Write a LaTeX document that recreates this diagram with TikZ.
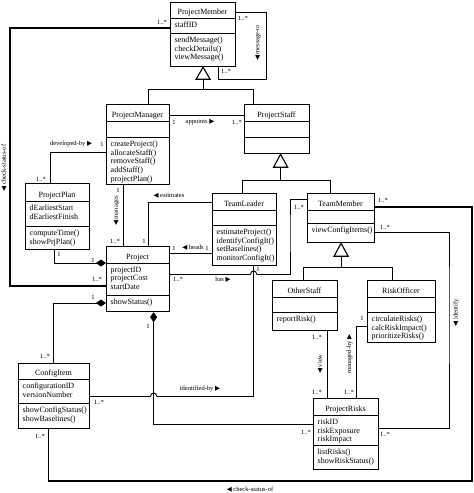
\documentclass[tikz,border=0pt]{standalone}
\usepackage{fontspec}
\setmainfont{Liberation Serif}
\newfontfamily\symfont{DejaVu Sans}
\usetikzlibrary{arrows.meta, calc}

\newcommand{\ra}{{\symfont\fontsize{6.5}{6.5}\selectfont\char"25B6}}
\newcommand{\la}{{\symfont\fontsize{6.5}{6.5}\selectfont\char"25C0}}

% class box: name, left, right, top, sep1, sep2, bottom, title, attributes
\newcommand{\umlclass}[9]{%
  \node[cls, minimum width={#3pt-#2pt}, minimum height={#7pt-#4pt}] (#1) at (#2,#4) {};
  \draw[cmpline] (#2,#5) -- (#3,#5) (#2,#6) -- (#3,#6);
  \coordinate (#1-a) at (#2,#5);
  \coordinate (#1-o) at (#2,#6);
  \node[ttl] at ({(#2+#3)/2},#5-4) {#8};
  \node[mbr] at ([shift={(4.5pt,-3.5pt)}]#1-a) {#9};
}
% line crossing
\newcommand{\hop}[1]{%
  \coordinate (hp) at (#1);
  \fill[white] (hp) circle (3pt);
  \draw[assoc] ([yshift=4pt]hp) -- ([yshift=-4pt]hp);
  \draw[assoc] ([xshift=-3pt]hp) arc[start angle=180, end angle=0, radius=3pt];
}

\begin{document}
\begin{tikzpicture}[x=1pt, y=-1pt]
    \tikzstyle{cls} = [draw, line width=1.2pt, inner sep=0pt, anchor=north west]
    \tikzstyle{cmpline} = [line width=0.8pt]
    \tikzstyle{ttl} = [font=\fontsize{8}{9}\selectfont, anchor=base, inner sep=0pt]
    \tikzstyle{mbr} = [font=\fontsize{8}{8.8}\selectfont, align=left, anchor=north west, inner sep=0pt]
    \tikzstyle{lbl} = [font=\fontsize{6.5}{7}\selectfont, inner sep=0.5pt]
    \tikzstyle{assoc} = [line width=0.9pt]
    \tikzstyle{heavy} = [line width=1.6pt]
    \tikzstyle{comp} = [assoc, {Diamond[length=10pt, width=7pt]}-]
    \tikzstyle{gen} = [line width=1.1pt, fill=white]

    \useasboundingbox (0,0) rectangle (474,493);

    % classes
    \umlclass{pm}{170}{235}{2}{18}{33}{66}{ProjectMember}{staffID}
    \node[mbr] at ([shift={(4.5pt,-3.5pt)}]pm-o) {sendMessage()\\checkDetails()\\viewMessage()};
    \umlclass{pmgr}{106}{169}{104}{121}{137}{184}{ProjectManager}{}
    \node[mbr] at ([shift={(4.5pt,-3.5pt)}]pmgr-o) {createProject()\\allocateStaff()\\removeStaff()\\addStaff()\\projectPlan()};
    \umlclass{pst}{244}{309}{104}{121}{137}{153}{ProjectStaff}{}
    \umlclass{tl}{212}{276}{193}{210}{225}{265}{TeamLeader}{}
    \node[mbr] at ([shift={(4.5pt,-3.5pt)}]tl-o) {estimateProject()\\identifyConfigIt()\\setBaselines()\\monitorConfigIt()};
    \umlclass{tm}{307}{374}{193}{210}{223}{242}{TeamMember}{}
    \node[mbr] at ([shift={(4.5pt,-3.5pt)}]tm-o) {viewConfigItems()};
    \umlclass{os}{272}{337}{280}{297}{312}{330}{OtherStaff}{}
    \node[mbr] at ([shift={(4.5pt,-3.5pt)}]os-o) {reportRisk()};
    \umlclass{ro}{367}{435}{280}{297}{312}{342}{RiskOfficer}{}
    \node[mbr] at ([shift={(4.5pt,-3.5pt)}]ro-o) {circulateRisks()\\calcRiskImpact()\\prioritizeRisks()};
    \umlclass{pp}{25}{89}{183}{201}{226}{249}{ProjectPlan}{dEarliestStart\\dEarliestFinish}
    \node[mbr] at ([shift={(4.5pt,-3.5pt)}]pp-o) {computeTime()\\showPrjPlan()};
    \umlclass{prj}{106}{169}{246}{263}{295}{311}{Project}{projectID\\projectCost\\startDate}
    \node[mbr] at ([shift={(4.5pt,-3.5pt)}]prj-o) {showStatus()};
    \umlclass{ci}{18}{89}{363}{379}{403}{428}{ConfigItem}{configurationID\\versionNumber}
    \node[mbr] at ([shift={(4.5pt,-3.5pt)}]ci-o) {showConfigStatus()\\showBaselines()};
    \umlclass{pr}{313}{378}{398}{415}{445}{469}{ProjectRisks}{riskID\\riskExposure\\riskImpact}
    \node[mbr] at ([shift={(4.5pt,-3.5pt)}]pr-o) {listRisks()\\showRiskStatus()};

    % generalisations
    \coordinate (g1) at (0,89);
    \coordinate (g2) at (0,180);
    \coordinate (g3) at (0,267);
    \draw[gen] (pm.south) -- ++(-7pt,-12pt) -- ++(14pt,0pt) -- cycle;
    \draw[assoc] ([yshift=-12pt]pm.south) -- (pm.south |- g1);
    \coordinate (pmgr-g) at ([xshift=10.5pt]pmgr.north);
    \coordinate (pst-g) at ([xshift=-23.5pt]pst.north);
    \draw[assoc] (pmgr-g) -- (pmgr-g |- g1) -- (pst-g |- g1) -- (pst-g);

    \coordinate (pst-t) at ([xshift=3.5pt]pst.south);
    \draw[gen] (pst-t) -- ++(-7pt,-13pt) -- ++(14pt,0pt) -- cycle;
    \draw[assoc] ([yshift=-13pt]pst-t) -- (pst-t |- g2);
    \coordinate (tl-g) at ([xshift=-2pt]tl.north);
    \coordinate (tm-g) at ([xshift=-10.5pt]tm.north);
    \draw[assoc] (tl-g) -- (tl-g |- g2) -- (tm-g |- g2) -- (tm-g);

    \draw[gen] (tm.south) -- ++(-7pt,-13pt) -- ++(14pt,0pt) -- cycle;
    \draw[assoc] ([yshift=-13pt]tm.south) -- (tm.south |- g3);
    \coordinate (os-g) at ([xshift=-1.5pt]os.north);
    \coordinate (ro-g) at ([xshift=-9pt]ro.north);
    \draw[assoc] (os-g) -- (os-g |- g3) -- (ro-g |- g3) -- (ro-g);

    % associations
    \coordinate (k1) at (10,150);
    \draw[heavy] ([yshift=-26pt]pm.north west) -| (k1) |- ([yshift=-40pt]prj.north west);
    \coordinate (sa) at (266,79);
    \draw[assoc] ([yshift=-10pt]pm.north east) -| (sa) -| ([xshift=15.5pt]pm.south);
    \draw[assoc] ([yshift=-11pt]pmgr.north east) -- ([yshift=-11pt]pst.north west);
    \draw[assoc] ([xshift=-7pt]pp.north) |- ([yshift=-48pt]pmgr.north west);
    \draw[assoc] ([xshift=-14.5pt]pmgr.south) -- ([xshift=-14.5pt]prj.north);
    \draw[assoc] ([xshift=10.5pt]prj.north) |- ([yshift=-9pt]tl.north west);
    \draw[assoc] ([yshift=-7pt]prj.north east) -- ([yshift=-60pt]tl.north west);
    \coordinate (h1) at (290,230);
    \coordinate (has-s) at ([yshift=-28pt]prj.north east);
    \draw[assoc] (has-s) -| (h1) |- ([yshift=-6pt]tm.north west);
    \coordinate (id-s) at ([xshift=9pt]tl.south);
    \coordinate (ci-r) at ([yshift=-33pt]ci.north east);
    \draw[assoc] (id-s) |- (ci-r);
    \coordinate (cp-s) at ([xshift=15.5pt]prj.south);
    \draw[comp] (cp-s) |- ([yshift=-26pt]pr.north west);
    \draw[comp] ([yshift=-17pt]prj.north west) -| ([xshift=-3pt]pp.south);
    \draw[comp] ([yshift=-57pt]prj.north west) -| ([xshift=-0.5pt]ci.north);
    \coordinate (id2) at (449,300);
    \draw[assoc] ([yshift=-39pt]tm.north east) -| (id2) |- ([yshift=-30pt]pr.north east);
    \coordinate (cs2) at (472,481);
    \draw[heavy] ([yshift=-14pt]tm.north east) -| (cs2) -| ([xshift=-5.5pt]ci.south);
    \draw[assoc] ([xshift=22.5pt]os.south) -- ([xshift=-18.5pt]pr.north);
    \draw[assoc] ([yshift=-46pt]ro.north west) -| ([xshift=10.5pt]pr.north);
    \hop{id-s |- has-s}
    \hop{cp-s |- ci-r}

    % labels
    \node[lbl] at (162,22) {1..*};
    \node[lbl] at (243,18) {1..*};
    \node[lbl] at (226,71) {1..*};
    \node[lbl, rotate=90] at (258,43) {\la\ message-to};
    \node[lbl, rotate=90] at (4,168) {\la\ check-status-of};
    \node[lbl] at (174,122) {1};
    \node[lbl] at (200,122) {appoints \ra};
    \node[lbl] at (237,122) {1..*};
    \node[lbl] at (71,144) {developed-by \ra};
    \node[lbl] at (102,144) {1};
    \node[lbl] at (41,179) {1..*};
    \node[lbl] at (118,190) {1};
    \node[lbl, rotate=90] at (116.5,211) {\la\ manages};
    \node[lbl] at (115,241) {1..*};
    \node[lbl] at (169,196) {\la\ estimates};
    \node[lbl] at (144,241) {1};
    \node[lbl] at (174,248) {1};
    \node[lbl] at (193,248) {\la\ heads};
    \node[lbl] at (207,248) {1};
    \node[lbl] at (178,279) {1..*};
    \node[lbl] at (223,280) {has \ra};
    \node[lbl] at (258,269) {1};
    \node[lbl] at (299,207) {1..*};
    \node[lbl] at (200,389) {identified-by \ra};
    \node[lbl] at (99,402) {1..*};
    \node[lbl] at (59,254) {1};
    \node[lbl] at (93,260) {1};
    \node[lbl] at (97,279) {1..*};
    \node[lbl] at (93,297) {1};
    \node[lbl] at (148,326) {1};
    \node[lbl] at (45,356) {1..*};
    \node[lbl] at (306,432) {1..*};
    \node[lbl] at (385,227) {1..*};
    \node[lbl] at (385,434) {1..*};
    \node[lbl, rotate=90] at (456,313) {\la\ identify};
    \node[lbl] at (383,200) {1..*};
    \node[lbl] at (40,436) {1..*};
    \node[lbl] at (250,490) {\la\ check-status-of};
    \node[lbl] at (317,337) {1..*};
    \node[lbl, rotate=90] at (320,364) {\la\ view};
    \node[lbl] at (317,392) {1..*};
    \node[lbl] at (362,318) {1};
    \node[lbl, rotate=90] at (349.5,354) {managed-by \ra};
    \node[lbl] at (349,392) {1..*};
\end{tikzpicture}
\end{document}
